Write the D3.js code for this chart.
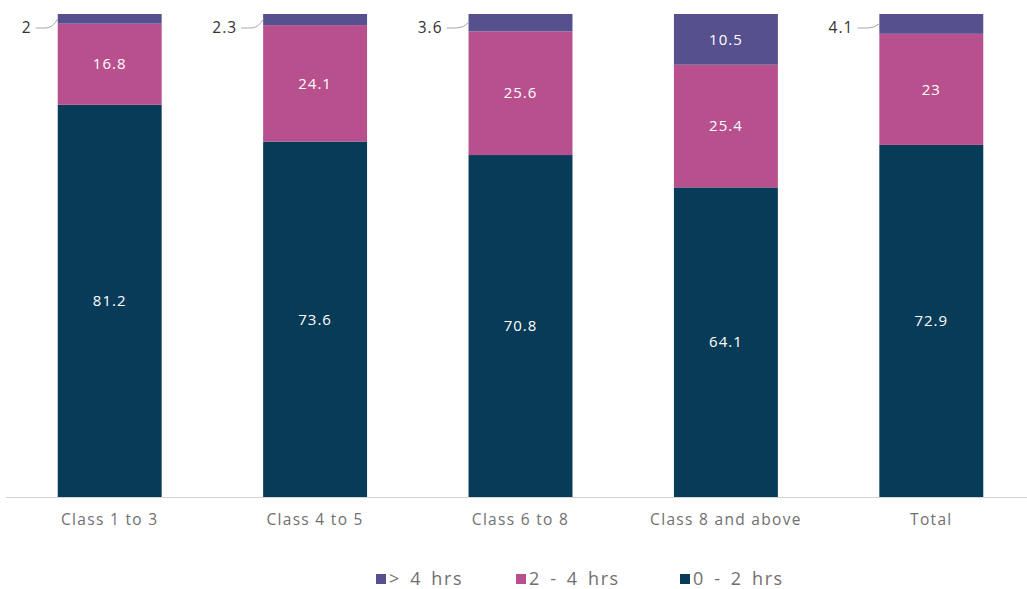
<!DOCTYPE html>
<html><head><meta charset="utf-8">
<script src="https://cdn.jsdelivr.net/npm/d3@7"></script>
<style>
body{margin:0;background:#fff;}
text{font-family:"Open Sans",sans-serif;}
</style></head>
<body><svg id="c" width="1027" height="589"></svg>
<script>
const categories = ["Class 1 to 3","Class 4 to 5","Class 6 to 8","Class 8 and above","Total"];
const low = [81.2,73.6,70.8,64.1,72.9];      // 0 - 2 hrs
const mid = [16.8,24.1,25.6,25.4,23];        // 2 - 4 hrs
const high = [2,2.3,3.6,10.5,4.1];           // > 4 hrs
const seriesNames = ["0 - 2 hrs","2 - 4 hrs","> 4 hrs"];
const legendOrder = ["> 4 hrs","2 - 4 hrs","0 - 2 hrs"];
const colors = {"0 - 2 hrs":"#073b57","2 - 4 hrs":"#b8508e","> 4 hrs":"#56508f"};

const svg = d3.select("#c");
const x = d3.scaleBand().domain(categories).range([7,1034]).paddingInner(0.494).paddingOuter(0.247);
const y = d3.scaleLinear().domain([0,100]).range([497,14]);

const rows = categories.map((c,i)=>({cat:c,"0 - 2 hrs":low[i],"2 - 4 hrs":mid[i],"> 4 hrs":high[i]}));
const stack = d3.stack().keys(seriesNames)(rows);

const g = svg.append("g");
stack.forEach(layer=>{
  g.selectAll(null).data(layer).enter().append("rect")
    .attr("x",d=>x(d.data.cat)).attr("width",x.bandwidth())
    .attr("y",d=>y(d[1])).attr("height",d=>y(d[0])-y(d[1]))
    .attr("fill",colors[layer.key]);
});

// axis
const ax = svg.append("g").attr("transform","translate(0,497)").call(d3.axisBottom(x).tickSize(0).tickPadding(17));
ax.select(".domain").attr("stroke","#d4d4d4").attr("d","M6,0.5H1027");
ax.selectAll("text").attr("fill","#707070").attr("font-size",15.5)
  .style("font-family","'Open Sans',sans-serif").style("letter-spacing","1.3px");

// labels
stack.forEach(layer=>{
  layer.forEach(d=>{
    const v = d.data[layer.key];
    const cx = x(d.data.cat)+x.bandwidth()/2;
    const cy = (y(d[0])+y(d[1]))/2;
    if (v >= 8) {
      svg.append("text").attr("x",cx).attr("y",cy).attr("dy","0.35em")
        .attr("text-anchor","middle").attr("fill","#ffffff").attr("font-size",15)
        .style("letter-spacing","1px").text(v);
    } else {
      const bx = x(d.data.cat);
      const ly = y(100)+14;
      svg.append("path")
        .attr("d",`M${bx-22},${ly} L${bx-12},${ly} Q${bx-5},${ly} ${bx},${cy}`)
        .attr("fill","none").attr("stroke","#a8a8a8").attr("stroke-width",1);
      svg.append("text").attr("x",bx-26).attr("y",ly).attr("dy","0.35em")
        .attr("text-anchor","end").attr("fill","#333333").attr("font-size",15.5)
        .style("letter-spacing","1px").text(v);
    }
  });
});

// legend
const lx = [376,516,680];
legendOrder.forEach((k,i)=>{
  const lg = svg.append("g").attr("transform",`translate(${lx[i]},579)`);
  lg.append("rect").attr("x",0).attr("y",-5).attr("width",10).attr("height",10).attr("fill",colors[k]);
  lg.append("text").attr("x",13).attr("y",0).attr("dy","0.35em").attr("fill","#707070").attr("font-size",18)
    .attr("word-spacing","3px").style("letter-spacing","1.6px").text(k);
});
</script></body></html>
